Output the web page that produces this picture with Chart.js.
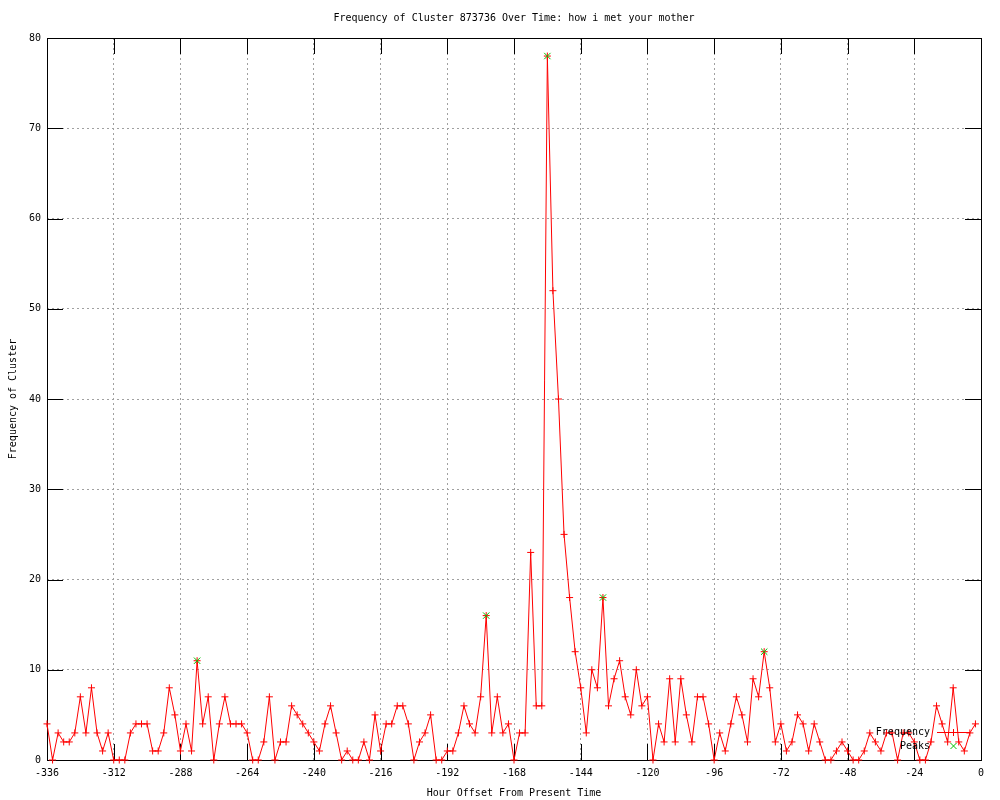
<!DOCTYPE html>
<html>
<head>
<meta charset="utf-8">
<title>Frequency of Cluster 873736 Over Time</title>
<script src="https://cdn.jsdelivr.net/npm/chart.js@4.4.1/dist/chart.umd.min.js"></script>
<style>
    body { margin: 0; background: #ffffff; }
    canvas { display: block; }
</style>
</head>
<body>
<canvas id="myChart" width="1000" height="800"></canvas>
<script>
// Hour offsets of every sample (one every 2 hours)
const hours = [
    -336, -334, -332, -330, -328, -326, -324, -322, -320, -318, -316, -314,
    -312, -310, -308, -306, -304, -302, -300, -298, -296, -294, -292, -290,
    -288, -286, -284, -282, -280, -278, -276, -274, -272, -270, -268, -266,
    -264, -262, -260, -258, -256, -254, -252, -250, -248, -246, -244, -242,
    -240, -238, -236, -234, -232, -230, -228, -226, -224, -222, -220, -218,
    -216, -214, -212, -210, -208, -206, -204, -202, -200, -198, -196, -194,
    -192, -190, -188, -186, -184, -182, -180, -178, -176, -174, -172, -170,
    -168, -166, -164, -162, -160, -158, -156, -154, -152, -150, -148, -146,
    -144, -142, -140, -138, -136, -134, -132, -130, -128, -126, -124, -122,
    -120, -118, -116, -114, -112, -110, -108, -106, -104, -102, -100, -98,
    -96, -94, -92, -90, -88, -86, -84, -82, -80, -78, -76, -74,
    -72, -70, -68, -66, -64, -62, -60, -58, -56, -54, -52, -50,
    -48, -46, -44, -42, -40, -38, -36, -34, -32, -30, -28, -26,
    -24, -22, -20, -18, -16, -14, -12, -10, -8, -6, -4, -2
];

// Frequency of the cluster at each hour offset
const frequency = [
    4, 0, 3, 2, 2, 3, 7, 3, 8, 3, 1, 3,
    0, 0, 0, 3, 4, 4, 4, 1, 1, 3, 8, 5,
    1, 4, 1, 11, 4, 7, 0, 4, 7, 4, 4, 4,
    3, 0, 0, 2, 7, 0, 2, 2, 6, 5, 4, 3,
    2, 1, 4, 6, 3, 0, 1, 0, 0, 2, 0, 5,
    1, 4, 4, 6, 6, 4, 0, 2, 3, 5, 0, 0,
    1, 1, 3, 6, 4, 3, 7, 16, 3, 7, 3, 4,
    0, 3, 3, 23, 6, 6, 78, 52, 40, 25, 18, 12,
    8, 3, 10, 8, 18, 6, 9, 11, 7, 5, 10, 6,
    7, 0, 4, 2, 9, 2, 9, 5, 2, 7, 7, 4,
    0, 3, 1, 4, 7, 5, 2, 9, 7, 12, 8, 2,
    4, 1, 2, 5, 4, 1, 4, 2, 0, 0, 1, 2,
    1, 0, 0, 1, 3, 2, 1, 3, 3, 0, 3, 3,
    2, 0, 0, 2, 6, 4, 2, 8, 2, 1, 3, 4
];

// Detected peaks
const peakHours = [-282, -178, -156, -136, -78];
const peakValues = [11, 16, 78, 18, 12];

// Axis ranges and tick steps
const xMin = -336, xMax = 0, xStep = 24;
const yMin = 0, yMax = 80, yStep = 10;

const FONT = "'DejaVu Sans Mono', 'Liberation Mono', monospace";

// Build {x, y} points from two arrays
function toPoints(xs, ys) {
    let pts = [];
    for (let i = 0; i < xs.length; i++) {
        pts.push({ x: xs[i], y: ys[i] });
    }
    return pts;
}

// Plot border and gnuplot style inward ticks (all four sides)
const frameTicks = {
    id: 'frameTicks',
    beforeDatasetsDraw(chart) {
        const ctx = chart.ctx;
        const a = chart.chartArea;
        const xs = chart.scales.x, ys = chart.scales.y;
        const len = 16;
        ctx.save();
        ctx.strokeStyle = '#000000';
        ctx.lineWidth = 1;
        ctx.beginPath();
        xs.ticks.forEach(function (t) {
            let px = Math.round(xs.getPixelForValue(t.value)) + 0.5;
            ctx.moveTo(px, a.bottom);
            ctx.lineTo(px, a.bottom - len);
            ctx.moveTo(px, a.top);
            ctx.lineTo(px, a.top + len);
        });
        ys.ticks.forEach(function (t) {
            let py = Math.round(ys.getPixelForValue(t.value)) + 0.5;
            ctx.moveTo(a.left, py);
            ctx.lineTo(a.left + len, py);
            ctx.moveTo(a.right, py);
            ctx.lineTo(a.right - len, py);
        });
        ctx.stroke();
        ctx.strokeRect(Math.round(a.left) + 0.5, Math.round(a.top) + 0.5,
                       Math.round(a.right - a.left), Math.round(a.bottom - a.top));
        ctx.restore();
    }
};

// Key in the bottom right corner, like gnuplot
const keyBox = {
    id: 'keyBox',
    afterDatasetsDraw(chart) {
        const ctx = chart.ctx;
        const a = chart.chartArea;
        const textRight = a.right - 51;
        const sampleL = a.right - 44, sampleR = a.right - 11;
        const sampleC = (sampleL + sampleR) / 2;
        const row1 = a.bottom - 28, row2 = a.bottom - 14;
        ctx.save();
        ctx.font = '10px ' + FONT;
        ctx.fillStyle = '#000000';
        ctx.textAlign = 'right';
        ctx.textBaseline = 'middle';
        ctx.fillText('Frequency', textRight, row1);
        ctx.fillText('Peaks', textRight, row2);

        // frequency sample: line with a cross
        ctx.strokeStyle = '#ff0000';
        ctx.lineWidth = 1;
        ctx.beginPath();
        ctx.moveTo(sampleL, row1 + 0.5);
        ctx.lineTo(sampleR, row1 + 0.5);
        ctx.moveTo(sampleC, row1 - 3);
        ctx.lineTo(sampleC, row1 + 4);
        ctx.stroke();

        // peaks sample: green x
        ctx.strokeStyle = '#00c000';
        ctx.beginPath();
        ctx.moveTo(sampleC - 3, row2 - 3);
        ctx.lineTo(sampleC + 3, row2 + 3);
        ctx.moveTo(sampleC + 3, row2 - 3);
        ctx.lineTo(sampleC - 3, row2 + 3);
        ctx.stroke();
        ctx.restore();
    }
};

Chart.defaults.font.family = FONT;
Chart.defaults.font.size = 10;
Chart.defaults.color = '#000000';

let ctx = document.getElementById('myChart').getContext('2d');
let chart = new Chart(ctx, {
    type: 'line',
    data: {
        datasets: [{
            label: 'Peaks',
            data: toPoints(peakHours, peakValues),
            showLine: false,
            pointStyle: 'crossRot',
            pointRadius: 4.5,
            pointBorderColor: '#00c000',
            pointBorderWidth: 1,
            borderColor: '#00c000',
            order: 0,
            clip: false
        }, {
            label: 'Frequency',
            data: toPoints(hours, frequency),
            borderColor: '#ff0000',
            borderWidth: 1,
            tension: 0,
            pointStyle: 'cross',
            pointRadius: 3.5,
            pointBorderColor: '#ff0000',
            pointBorderWidth: 1,
            order: 1,
            clip: false
        }]
    },
    options: {
        responsive: false,
        animation: false,
        devicePixelRatio: 1,
        layout: {
            padding: { top: 0, right: 19, bottom: 0, left: 0 }
        },
        plugins: {
            legend: { display: false },
            tooltip: { enabled: false },
            title: {
                display: true,
                text: 'Frequency of Cluster 873736 Over Time: how i met your mother',
                fullSize: false,
                color: '#000000',
                font: { size: 10, weight: 'normal', family: FONT },
                padding: { top: 12, bottom: 14 }
            }
        },
        scales: {
            x: {
                type: 'linear',
                min: xMin,
                max: xMax,
                afterFit: function (s) { s.height = 40; },
                ticks: {
                    stepSize: xStep,
                    padding: 7,
                    maxRotation: 0,
                    autoSkip: false,
                    color: '#000000'
                },
                grid: {
                    color: '#a0a0a0',
                    lineWidth: 1,
                    drawTicks: false
                },
                border: { display: false, dash: [2, 3] },
                title: {
                    display: true,
                    text: 'Hour Offset From Present Time',
                    color: '#000000',
                    padding: { top: 0, bottom: 1 }
                }
            },
            y: {
                min: yMin,
                max: yMax,
                afterFit: function (s) { s.width = 47; },
                ticks: {
                    stepSize: yStep,
                    padding: 6,
                    color: '#000000'
                },
                grid: {
                    color: '#a0a0a0',
                    lineWidth: 1,
                    drawTicks: false
                },
                border: { display: false, dash: [2, 3] },
                title: {
                    display: true,
                    text: 'Frequency of Cluster',
                    color: '#000000',
                    padding: { top: 7, bottom: 0 }
                }
            }
        }
    },
    plugins: [frameTicks, keyBox]
});
</script>
</body>
</html>
